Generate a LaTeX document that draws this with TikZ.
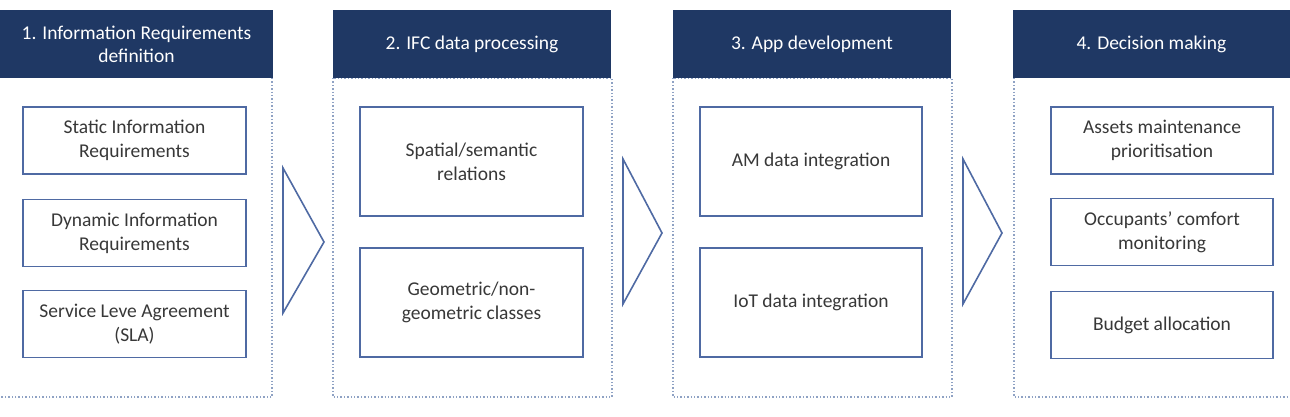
\documentclass[tikz,border=0pt]{standalone}
\usepackage{fontspec}
\setmainfont{Carlito}
\definecolor{hdr}{HTML}{1F3864}
\definecolor{bx}{HTML}{4F6AA3}
\definecolor{txt}{HTML}{383838}
\definecolor{frm}{HTML}{8FA2C4}
\begin{document}
\begin{tikzpicture}[x=1pt,y=-1pt,
  header/.style={fill=hdr,draw=none,text=white,align=center,minimum width=278pt,minimum height=68pt,inner sep=0pt,font=\fontsize{19.5}{23}\selectfont},
  item/.style={draw=bx,line width=1.6pt,fill=white,text=txt,align=center,minimum width=222pt,inner sep=0pt,font=\fontsize{19.5}{24}\selectfont},
  shortitem/.style={item,minimum height=67pt},
  tallitem/.style={item,minimum height=109pt},
  frame/.style={draw=frm,line width=1.4pt,dotted},
  chevron/.style={draw=bx,line width=1.6pt,line join=miter}]
\useasboundingbox (0,0) rectangle (1290,417);
% frames
\draw[frame] (272,78) -- (272,397) -- (0,397);
\draw[frame] (333,78) rectangle (612,397);
\draw[frame] (673,78) rectangle (952,397);
\draw[frame] (1014,78) -- (1014,397) -- (1290,397);
% headers
\node[header,minimum width=273pt] (h1) at (136.5,44) {1. Information Requirements\\definition};
\node[header] (h2) at (472,44) {2. IFC data processing};
\node[header] (h3) at (812,44) {3. App development};
\node[header,minimum width=277pt] (h4) at (1151.5,44) {4. Decision making};
% column 1
\node[shortitem,minimum width=223pt] (a1) at (134.5,140.5) {Static Information\\Requirements};
\node[shortitem,minimum width=223pt] (a2) at (134.5,233) {Dynamic Information\\Requirements};
\node[shortitem,minimum width=223pt] (a3) at (134.5,324) {Service Leve Agreement\\(SLA)};
% column 2
\node[tallitem,minimum width=223pt] (b1) at (471.5,161.5) {Spatial/semantic\\relations};
\node[tallitem,minimum width=223pt] (b2) at (471.5,302.5) {Geometric/non-\\geometric classes};
% column 3
\node[tallitem] (c1) at (811,161.5) {AM data integration};
\node[tallitem] (c2) at (811,302.5) {IoT data integration};
% column 4
\node[shortitem] (d1) at (1162,140.5) {Assets maintenance\\prioritisation};
\node[shortitem] (d2) at (1162,232) {Occupants’ comfort\\monitoring};
\node[shortitem] (d3) at (1162,325) {Budget allocation};
% chevrons
\draw[chevron] (283,168) -- (324,242) -- (283,313) -- cycle;
\draw[chevron] (623,159) -- (662,233) -- (623,304) -- cycle;
\draw[chevron] (963,159) -- (1002,233) -- (963,304) -- cycle;
\end{tikzpicture}
\end{document}
